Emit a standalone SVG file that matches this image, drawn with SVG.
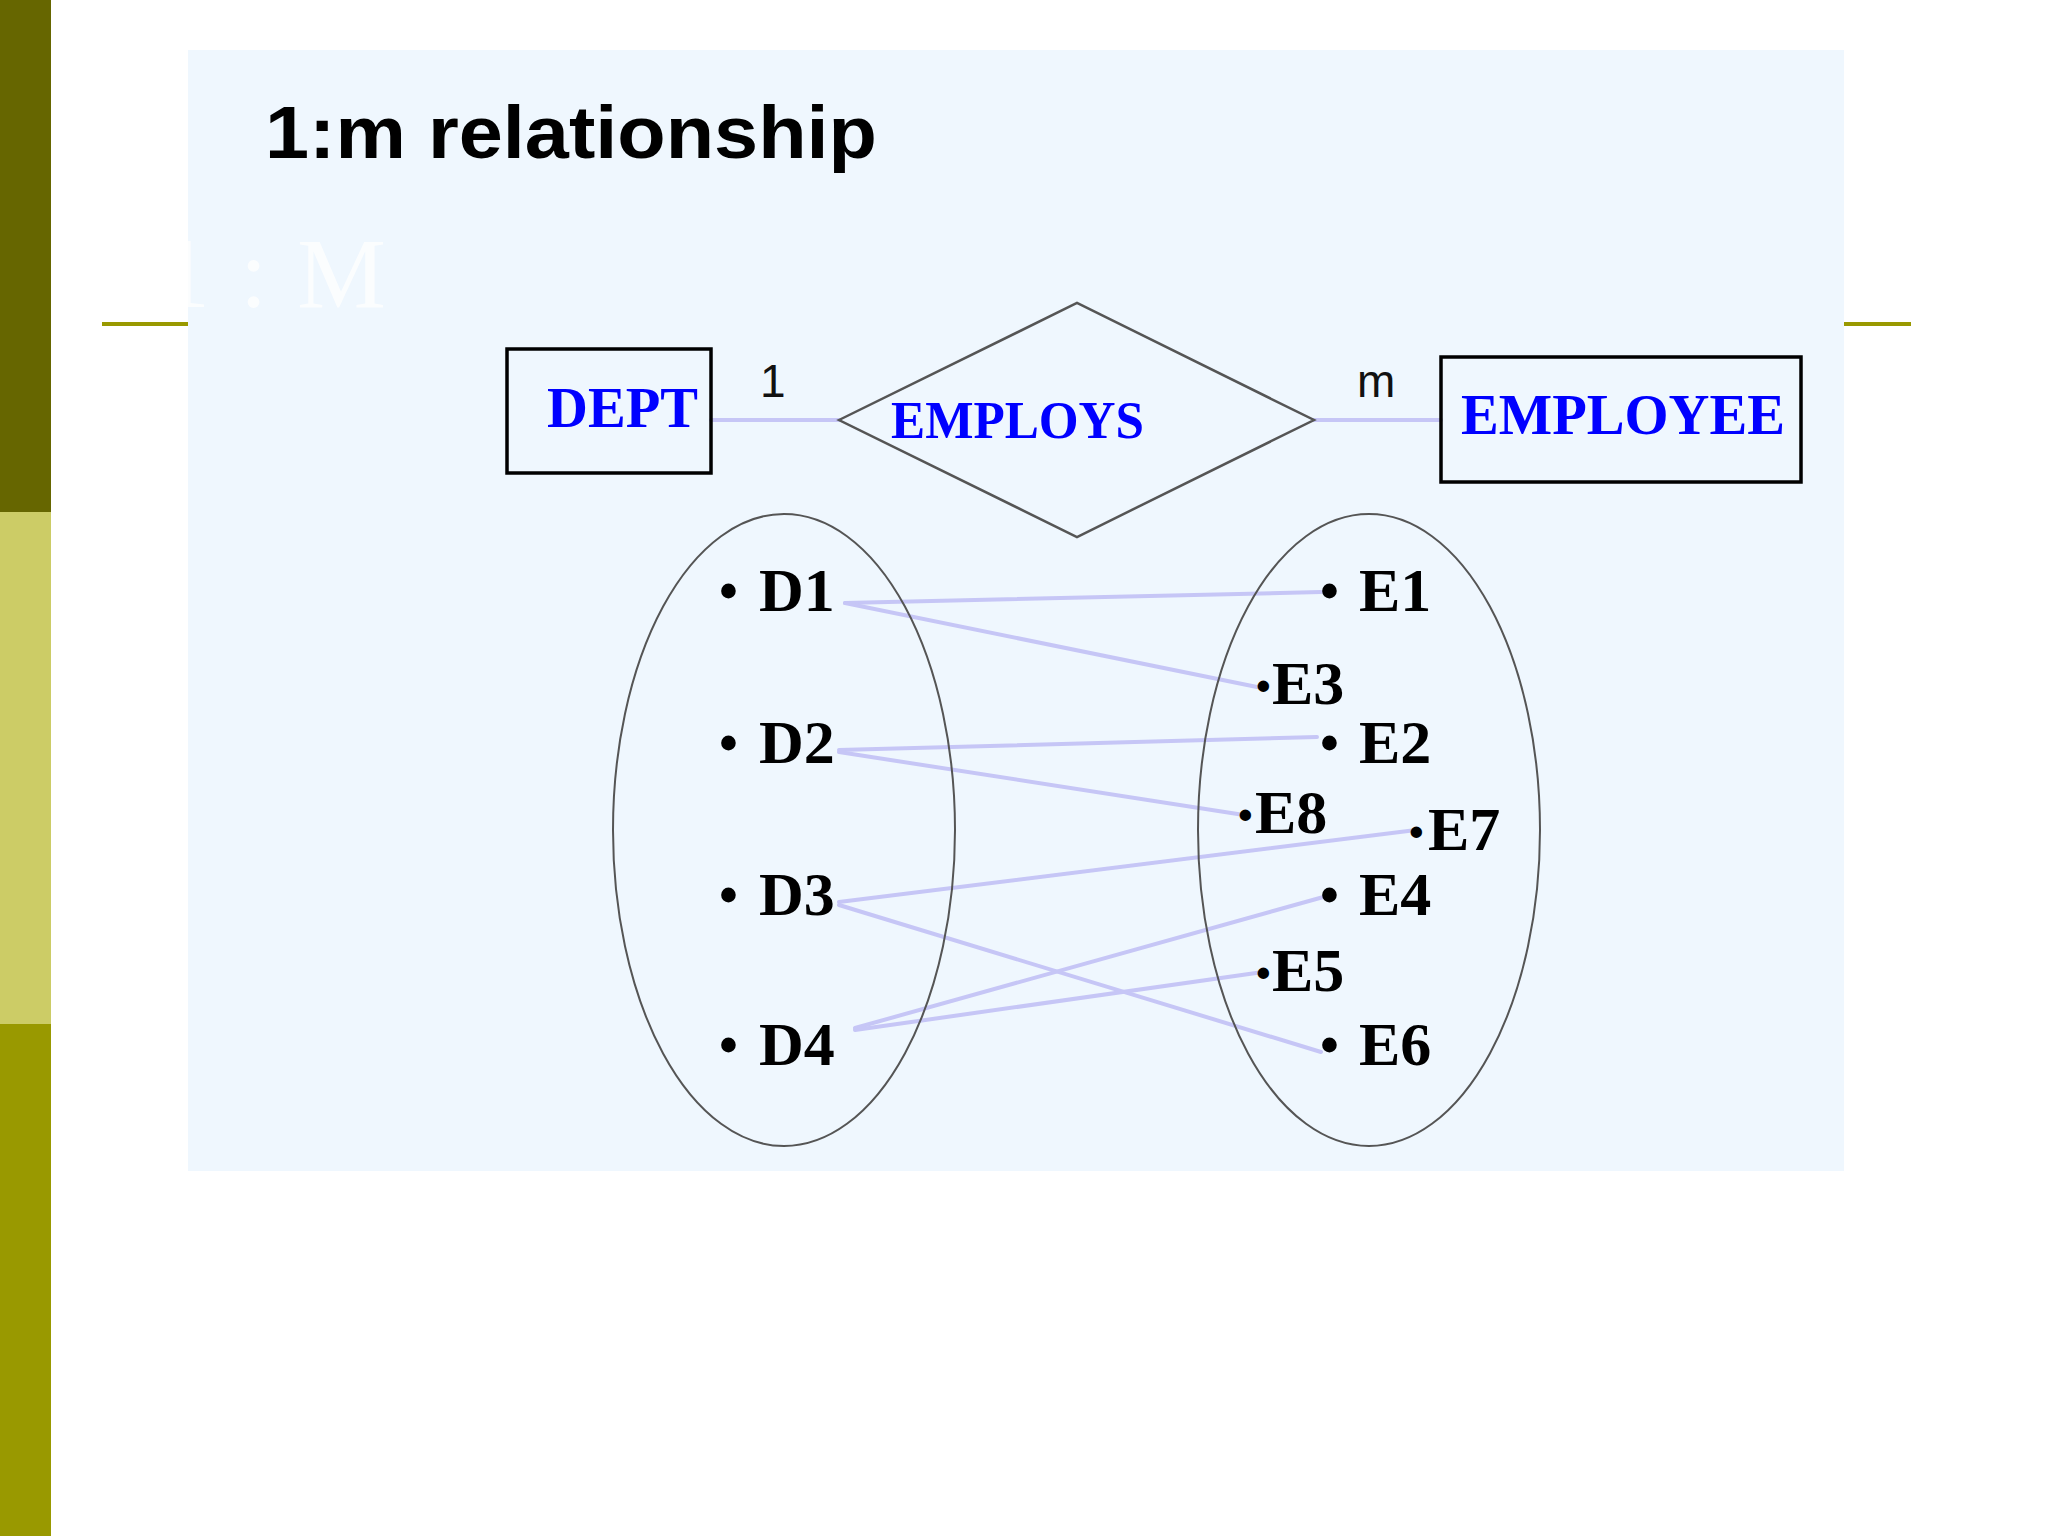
<svg xmlns="http://www.w3.org/2000/svg" width="2048" height="1536" viewBox="0 0 2048 1536">
<defs>
<style>
.ent{fill:none;stroke:#000;stroke-width:3.5}
.ent-t{font-family:"Liberation Serif",serif;font-weight:bold;fill:#0000ff}
.card{font-family:"Liberation Sans",Arial,sans-serif;font-size:46px;fill:#111}
.set{fill:none;stroke:#555;stroke-width:2}
.item{font-family:"Liberation Serif",serif;font-weight:bold;font-size:62px;fill:#000}
.b{font-size:54px}
.bs{font-size:42px}
.link{stroke:#c6c6f6;stroke-width:4;fill:none;stroke-linecap:round}
.olive{stroke:#999900;stroke-width:4}
</style>
</defs>
<rect x="0" y="0" width="2048" height="1536" fill="#ffffff"/>
<!-- left bar -->
<rect x="0" y="0" width="51" height="512" fill="#666600"/>
<rect x="0" y="512" width="51" height="512" fill="#cccc66"/>
<rect x="0" y="1024" width="51" height="512" fill="#999900"/>
<!-- olive rule -->
<line class="olive" x1="102" y1="324" x2="190" y2="324"/>
<line class="olive" x1="1840" y1="324" x2="1911" y2="324"/>
<!-- panel -->
<rect x="188" y="50" width="1656" height="1121" fill="#eff7fe"/>
<text x="160" y="307" font-family="Liberation Serif,serif" font-size="100" fill="#ffffff" opacity="0.75" textLength="226" lengthAdjust="spacing">1 : M</text>
<text x="265" y="158" font-family="Liberation Sans,Arial,sans-serif" font-weight="bold" font-size="74" fill="#000" textLength="612" lengthAdjust="spacingAndGlyphs">1:m relationship</text>

<g id="connectors">
<line class="link" x1="711" y1="420" x2="839" y2="420"/>
<line class="link" x1="1314" y1="420" x2="1441" y2="420"/>
<line class="link" x1="845" y1="603" x2="1321" y2="592"/>
<line class="link" x1="845" y1="603" x2="1257" y2="687"/>
<line class="link" x1="839" y1="750" x2="1317" y2="737"/>
<line class="link" x1="839" y1="752" x2="1244" y2="815"/>
<line class="link" x1="839" y1="902" x2="1416" y2="830"/>
<line class="link" x1="839" y1="905" x2="1321" y2="1052"/>
<line class="link" x1="855" y1="1028" x2="1327" y2="896"/>
<line class="link" x1="855" y1="1030" x2="1263" y2="972"/>
</g>

<g id="dept">
<rect class="ent" x="507" y="349" width="204" height="124"/>
<text class="ent-t" x="547" y="427" font-size="56" textLength="151" lengthAdjust="spacingAndGlyphs">DEPT</text>
</g>
<text class="card" x="760" y="397">1</text>
<g id="employs">
<polygon points="839,420 1077,303 1314,420 1077,537" fill="none" stroke="#555" stroke-width="2.5"/>
<text class="ent-t" x="891" y="438" font-size="53" font-weight="normal" textLength="253" lengthAdjust="spacingAndGlyphs">EMPLOYS</text>
</g>
<text class="card" x="1357" y="397">m</text>
<g id="employee">
<rect class="ent" x="1441" y="357" width="360" height="125"/>
<text class="ent-t" x="1461" y="434" font-size="56" textLength="324" lengthAdjust="spacingAndGlyphs">EMPLOYEE</text>
</g>

<g id="dept-set">
<ellipse class="set" cx="784" cy="830" rx="171" ry="316"/>
<text class="item" y="611"><tspan class="b" x="719" dy="-2">•</tspan><tspan x="759" dy="2">D1</tspan></text>
<text class="item" y="763"><tspan class="b" x="719" dy="-2">•</tspan><tspan x="759" dy="2">D2</tspan></text>
<text class="item" y="915"><tspan class="b" x="719" dy="-2">•</tspan><tspan x="759" dy="2">D3</tspan></text>
<text class="item" y="1065"><tspan class="b" x="719" dy="-2">•</tspan><tspan x="759" dy="2">D4</tspan></text>
</g>
<g id="employee-set">
<ellipse class="set" cx="1369" cy="830" rx="171" ry="316"/>
<text class="item" y="611"><tspan class="b" x="1320" dy="-2">•</tspan><tspan x="1359" dy="2">E1</tspan></text>
<text class="item" y="704"><tspan class="bs" x="1256" dy="-4">•</tspan><tspan x="1272" dy="4">E3</tspan></text>
<text class="item" y="763"><tspan class="b" x="1320" dy="-2">•</tspan><tspan x="1359" dy="2">E2</tspan></text>
<text class="item" y="833"><tspan class="bs" x="1238" dy="-4">•</tspan><tspan x="1255" dy="4">E8</tspan></text>
<text class="item" y="850"><tspan class="bs" x="1409" dy="-4">•</tspan><tspan x="1428" dy="4">E7</tspan></text>
<text class="item" y="915"><tspan class="b" x="1320" dy="-2">•</tspan><tspan x="1359" dy="2">E4</tspan></text>
<text class="item" y="991"><tspan class="bs" x="1256" dy="-4">•</tspan><tspan x="1272" dy="4">E5</tspan></text>
<text class="item" y="1065"><tspan class="b" x="1320" dy="-2">•</tspan><tspan x="1359" dy="2">E6</tspan></text>
</g>
</svg>
